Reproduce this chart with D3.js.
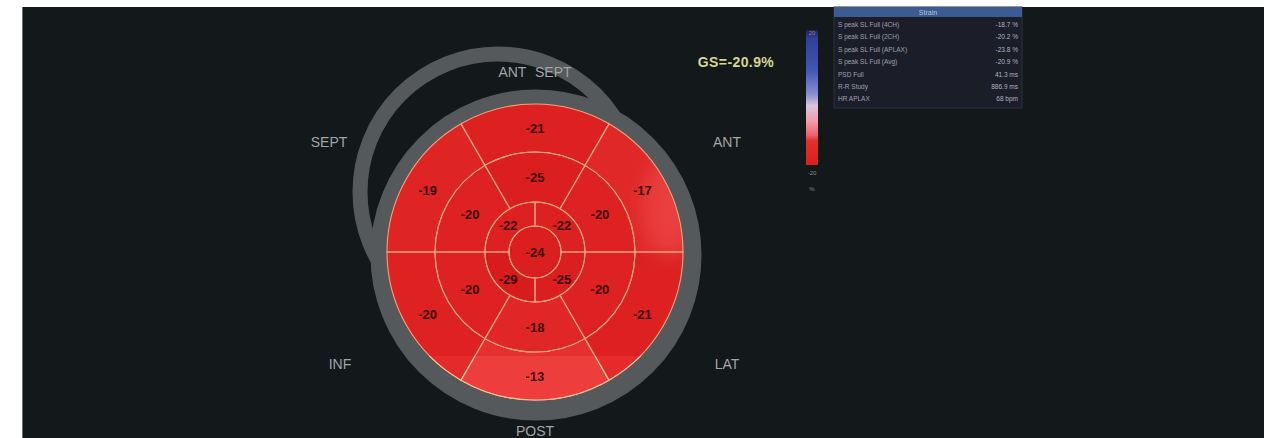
<!DOCTYPE html>
<html>
<head>
<meta charset="utf-8">
<script src="https://cdn.jsdelivr.net/npm/d3@7"></script>
<style>
  html, body { margin: 0; padding: 0; background: #ffffff; }
  svg { display: block; }
</style>
</head>
<body>
<svg id="chart" width="1278" height="438"></svg>
<script>
// Segment strain values (%), clockwise from the 12 o'clock position
const basalValues  = [-21, -17, -21, -13, -20, -19];
const midValues    = [-25, -20, -20, -18, -20, -20];
const apicalValues = [-22, -25, -29, -22];
const apexValues   = [-24];
const globalStrain = "GS=-20.9%";

// Wall labels around the bullseye
const wallLabels = ["ANT SEPT", "ANT", "LAT", "POST", "INF", "SEPT"];

// Colour bar tick labels
const colorbarTicks = ["20", "-20", "%"];

// Measurement table
const tableTitle = "Strain";
const tableNames  = ["S peak SL Full (4CH)", "S peak SL Full (2CH)", "S peak SL Full (APLAX)",
                     "S peak SL Full (Avg)", "PSD Full", "R-R Study", "HR APLAX"];
const tableValues = ["-18.7 %", "-20.2 %", "-23.8 %", "-20.9 %", "41.3 ms", "886.9 ms", "68 bpm"];

const svg = d3.select("#chart");
const defs = svg.append("defs");

// Panel background
svg.append("rect").attr("x", 22).attr("y", 7).attr("width", 1242).attr("height", 431)
  .attr("fill", "#13181b");
svg.append("line").attr("x1", 22.5).attr("x2", 22.5).attr("y1", 7).attr("y2", 438)
  .attr("stroke", "#6a6d70").attr("stroke-width", 1);

const cx = 535, cy = 252;
// Ring boundaries: apex, apical, mid, basal
const ringR = [0, 26, 50, 100, 148];

const color = d3.scaleLinear().domain([-29, -20, -13]).range(["#d81c1c", "#de2222", "#e63030"]);

// Background gray rings
svg.append("circle").attr("cx", 498).attr("cy", 192).attr("r", 138)
  .attr("fill", "none").attr("stroke", "#55595b").attr("stroke-width", 15);
svg.append("circle").attr("cx", 536).attr("cy", 255).attr("r", 155)
  .attr("fill", "none").attr("stroke", "#55595b").attr("stroke-width", 21);

// Bullseye
const bullWrap = svg.append("g").attr("id", "bullseye");
const bull = bullWrap.append("g").attr("transform", `translate(${cx},${cy})`);
const arc = d3.arc();
const deg = Math.PI / 180;

function ring(values, r0, r1, span, offset) {
  return values.map((v, i) => ({
    value: v,
    innerRadius: r0, outerRadius: r1,
    startAngle: (i * span + offset) * deg,
    endAngle: ((i + 1) * span + offset) * deg
  }));
}
const segments = [
  ...ring(basalValues, ringR[3], ringR[4], 60, -30),
  ...ring(midValues, ringR[2], ringR[3], 60, -30),
  ...ring(apicalValues, ringR[1], ringR[2], 90, 0),
  ...ring(apexValues, ringR[0], ringR[1], 360, 0)
];

bull.selectAll("path.seg").data(segments).join("path")
  .attr("class", "seg")
  .attr("d", arc)
  .attr("fill", d => color(d.value));

// Soft lighter patch near the anterior wall
defs.append("clipPath").attr("id", "discClip").append("circle").attr("r", ringR[4]);
defs.append("filter").attr("id", "soft").attr("x", "-50%").attr("y", "-50%").attr("width", "200%").attr("height", "200%")
  .append("feGaussianBlur").attr("stdDeviation", 10);
bull.append("g").attr("clip-path", "url(#discClip)")
  .append("ellipse").attr("cx", 135).attr("cy", -45).attr("rx", 28).attr("ry", 50)
  .attr("fill", "#ec4a48").attr("opacity", 0.7).attr("filter", "url(#soft)");

// Segment borders
bull.selectAll("path.edge").data(segments).join("path")
  .attr("class", "edge")
  .attr("d", arc)
  .attr("fill", "none")
  .attr("stroke", "#f3a27a").attr("stroke-width", 1.1);

bull.selectAll("text.val").data(segments).join("text")
  .attr("class", "val")
  .attr("transform", d => d.innerRadius === 0 ? "translate(0,0)" : `translate(${arc.centroid(d)})`)
  .attr("text-anchor", "middle")
  .attr("dy", "0.36em")
  .attr("font-family", "Liberation Sans, Arial, sans-serif")
  .attr("font-weight", "bold")
  .attr("font-size", 13)
  .attr("fill", "#3a0606")
  .text(d => d.value);

// Lower band of the display is slightly brighter
defs.append("clipPath").attr("id", "lowerClip")
  .append("rect").attr("x", cx - 200).attr("y", 356).attr("width", 400).attr("height", 100);
const bright = defs.append("filter").attr("id", "brighten")
  .attr("filterUnits", "userSpaceOnUse").attr("x", 0).attr("y", 0).attr("width", 1278).attr("height", 438);
const ct = bright.append("feComponentTransfer");
ct.append("feFuncR").attr("type", "linear").attr("slope", 1.08);
ct.append("feFuncG").attr("type", "linear").attr("slope", 1.6);
ct.append("feFuncB").attr("type", "linear").attr("slope", 1.6);
svg.append("g").attr("clip-path", "url(#lowerClip)")
  .append("g").attr("filter", "url(#brighten)")
  .append("use").attr("href", "#bullseye");

// Wall labels
const labelPos = [[535, 77], [727, 147], [727, 369], [535, 436], [340, 369], [329, 147]];
svg.selectAll("text.wall").data(wallLabels).join("text")
  .attr("class", "wall")
  .attr("x", (d, i) => labelPos[i][0]).attr("y", (d, i) => labelPos[i][1])
  .attr("text-anchor", "middle")
  .attr("font-family", "Liberation Sans, Arial, sans-serif")
  .attr("font-size", 14)
  .attr("word-spacing", 5)
  .attr("fill", "#a2a4a6")
  .text(d => d);

// Global strain
svg.append("text").attr("x", 736).attr("y", 67).attr("text-anchor", "middle")
  .attr("font-family", "Liberation Sans, Arial, sans-serif").attr("font-weight", "bold")
  .attr("font-size", 14).attr("letter-spacing", 0.4).attr("fill", "#d6d690").text(globalStrain);

// Colour bar
const grad = defs.append("linearGradient").attr("id", "cbar").attr("x1", 0).attr("y1", 0).attr("x2", 0).attr("y2", 1);
[[0, "#1c2150"], [0.06, "#2f3f9a"], [0.3, "#4256b8"], [0.48, "#8a8fd2"], [0.56, "#d9c4dc"],
 [0.68, "#f49aa8"], [0.78, "#ee6070"], [0.82, "#e2302e"], [1, "#dd1e1e"]]
  .forEach(s => grad.append("stop").attr("offset", s[0]).attr("stop-color", s[1]));
const cbY = d3.scaleLinear().domain([20, -20]).range([30, 165]);
svg.append("rect").attr("x", 806).attr("y", cbY(20)).attr("width", 12).attr("height", cbY(-20) - cbY(20))
  .attr("fill", "url(#cbar)");
svg.selectAll("text.cb").data(colorbarTicks).join("text")
  .attr("class", "cb")
  .attr("x", 812).attr("y", (d, i) => i === 0 ? cbY(20) + 5 : cbY(-20) + 10 + (i - 1) * 16)
  .attr("text-anchor", "middle")
  .attr("font-family", "Liberation Sans, Arial, sans-serif")
  .attr("font-size", 6).attr("fill", "#8a8c90")
  .text(d => d);

// Measurement table
const tx = 834, tw = 188, ty = 7, headerH = 10, rowH = 12.4;
const tRow = d3.scaleLinear().domain([0, tableNames.length]).range([ty + headerH + 2, ty + headerH + 2 + rowH * tableNames.length]);
svg.append("rect").attr("x", tx).attr("y", ty).attr("width", tw).attr("height", 101).attr("fill", "#1b1d29")
  .attr("stroke", "#2c3040").attr("stroke-width", 1);
svg.append("rect").attr("x", tx).attr("y", ty).attr("width", tw).attr("height", headerH).attr("fill", "#3b5b92");
svg.append("text").attr("x", tx + tw / 2).attr("y", ty + 8).attr("text-anchor", "middle")
  .attr("font-family", "Liberation Sans, Arial, sans-serif").attr("font-size", 7).attr("fill", "#b8c4dc")
  .text(tableTitle);
svg.selectAll("text.tn").data(tableNames).join("text")
  .attr("class", "tn").attr("x", tx + 4).attr("y", (d, i) => tRow(i) + 8)
  .attr("font-family", "Liberation Sans, Arial, sans-serif").attr("font-size", 6.5).attr("fill", "#9ea2b0")
  .text(d => d);
svg.selectAll("text.tv").data(tableValues).join("text")
  .attr("class", "tv").attr("x", tx + tw - 4).attr("y", (d, i) => tRow(i) + 8)
  .attr("text-anchor", "end")
  .attr("font-family", "Liberation Sans, Arial, sans-serif").attr("font-size", 6.5).attr("fill", "#b0b4c0")
  .text(d => d);
</script>
</body>
</html>
